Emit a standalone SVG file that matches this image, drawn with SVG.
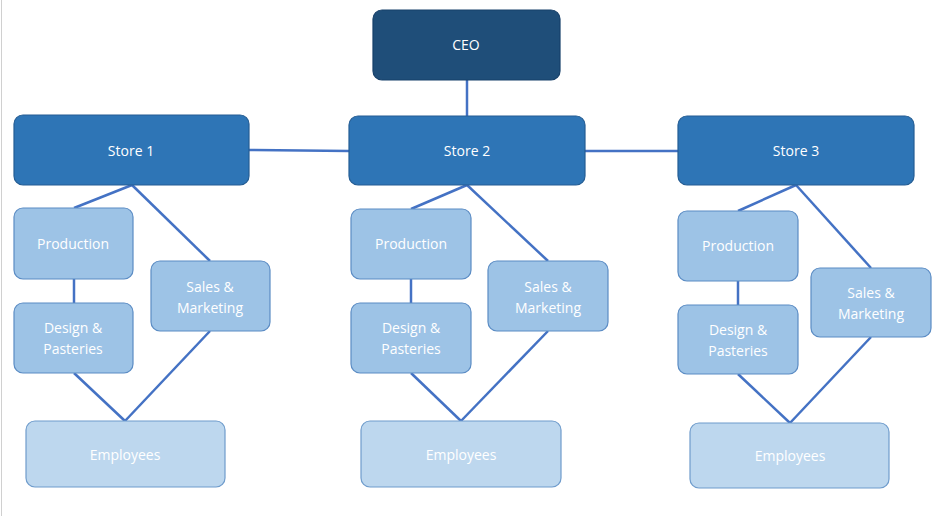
<svg xmlns="http://www.w3.org/2000/svg" width="936" height="516" viewBox="0 0 936 516">
<style>
rect{rx:9px;stroke-width:1.2}
.ceo{fill:#1f4e79;stroke:#17406a}
.st{fill:#2e75b6;stroke:#245d94}
.l2{fill:#9dc3e6;stroke:#5b8cc4}
.em{fill:#bdd7ee;stroke:#6f9ccc}
text{font-family:"Open Sans","Liberation Sans",sans-serif;font-size:14px;fill:#fff;text-anchor:middle}
.c line{stroke:#4472c4;stroke-width:2.5}
</style>
<rect x="0" y="0" width="936" height="516" fill="#fff" style="rx:0"/>
<line x1="1.5" y1="0" x2="1.5" y2="516" stroke="#d0d0d0"/>
<g class="c">
<line x1="467" y1="80" x2="467" y2="116"/>
<line x1="249" y1="150" x2="349" y2="151"/>
<line x1="585" y1="151" x2="678" y2="151"/>
<line x1="132" y1="185" x2="74" y2="208"/><line x1="132" y1="185" x2="210" y2="261"/>
<line x1="74" y1="279" x2="74" y2="303"/><line x1="74" y1="373" x2="125" y2="421"/><line x1="210" y1="331" x2="125" y2="421"/>
<line x1="467" y1="185" x2="411" y2="209"/><line x1="467" y1="185" x2="548" y2="261"/>
<line x1="411" y1="279" x2="411" y2="303"/><line x1="411" y1="373" x2="461" y2="421"/><line x1="548" y1="331" x2="461" y2="421"/>
<line x1="796" y1="185" x2="738" y2="211"/><line x1="796" y1="185" x2="871" y2="268"/>
<line x1="738" y1="281" x2="738" y2="305"/><line x1="738" y1="374" x2="790" y2="423"/><line x1="871" y1="337" x2="790" y2="423"/>
</g>
<g id="ceo"><rect class="ceo" x="373" y="10" width="187" height="70"/><text x="466" y="50">CEO</text></g>
<g id="store1"><rect class="st" x="14" y="115" width="235" height="70"/><text x="131" y="156">Store 1</text></g>
<g id="store2"><rect class="st" x="349" y="116" width="236" height="69"/><text x="467" y="156">Store 2</text></g>
<g id="store3"><rect class="st" x="678" y="116" width="236" height="69"/><text x="796" y="156">Store 3</text></g>
<g id="prod1"><rect class="l2" x="14" y="208" width="119" height="71"/><text x="73" y="249">Production</text></g>
<g id="design1"><rect class="l2" x="14" y="303" width="119" height="70"/><text x="73" y="333">Design &amp;</text><text x="73" y="354">Pasteries</text></g>
<g id="sales1"><rect class="l2" x="151" y="261" width="119" height="70"/><text x="210" y="292">Sales &amp;</text><text x="210" y="313">Marketing</text></g>
<g id="emp1"><rect class="em" x="26" y="421" width="199" height="66"/><text x="125" y="460">Employees</text></g>
<g id="prod2"><rect class="l2" x="351" y="209" width="120" height="70"/><text x="411" y="249">Production</text></g>
<g id="design2"><rect class="l2" x="351" y="303" width="120" height="70"/><text x="411" y="333">Design &amp;</text><text x="411" y="354">Pasteries</text></g>
<g id="sales2"><rect class="l2" x="488" y="261" width="120" height="70"/><text x="548" y="292">Sales &amp;</text><text x="548" y="313">Marketing</text></g>
<g id="emp2"><rect class="em" x="361" y="421" width="200" height="66"/><text x="461" y="460">Employees</text></g>
<g id="prod3"><rect class="l2" x="678" y="211" width="120" height="70"/><text x="738" y="251">Production</text></g>
<g id="design3"><rect class="l2" x="678" y="305" width="120" height="69"/><text x="738" y="335">Design &amp;</text><text x="738" y="356">Pasteries</text></g>
<g id="sales3"><rect class="l2" x="811" y="268" width="120" height="69"/><text x="871" y="298">Sales &amp;</text><text x="871" y="319">Marketing</text></g>
<g id="emp3"><rect class="em" x="690" y="423" width="199" height="65"/><text x="790" y="461">Employees</text></g>
</svg>
